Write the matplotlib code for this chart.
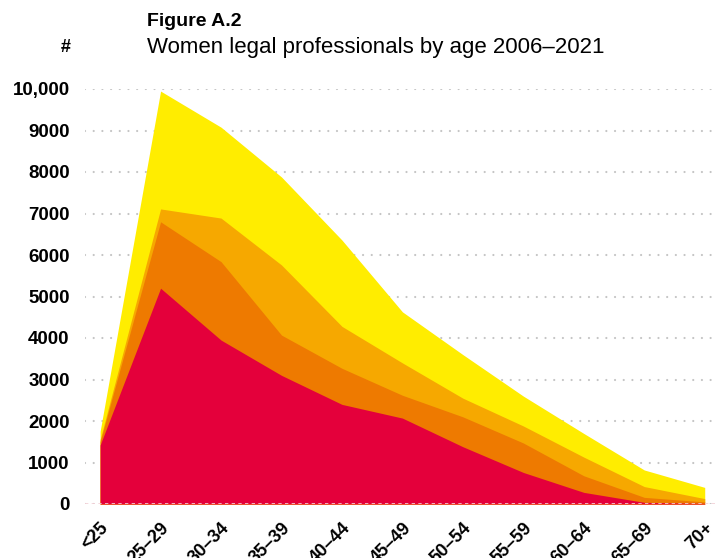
import matplotlib
matplotlib.use("Agg")
import matplotlib.pyplot as plt
import numpy as np

ages = ['<25', '25–29', '30–34', '35–39', '40–44', '45–49', '50–54', '55–59', '60–64', '65–69', '70+']
y2021 = [1750, 9950, 9080, 7880, 6360, 4630, 3600, 2600, 1700, 820, 400]
y2016 = [1550, 7110, 6890, 5760, 4280, 3400, 2550, 1880, 1130, 420, 130]
y2011 = [1500, 6800, 5840, 4070, 3270, 2620, 2100, 1470, 680, 160, 50]
y2006 = [1420, 5200, 3950, 3100, 2400, 2070, 1380, 760, 280, 40, 15]
yticks = [0, 1000, 2000, 3000, 4000, 5000, 6000, 7000, 8000, 9000, 10000]
ytick_labels = ['0', '1000', '2000', '3000', '4000', '5000', '6000', '7000', '8000', '9000', '10,000']

colors = ['#FFED00', '#F6A800', '#EE7A00', '#E4003B']
series = [y2021, y2016, y2011, y2006]

plt.rcParams['font.family'] = ['Liberation Sans', 'DejaVu Sans']

fig = plt.figure(figsize=(7.15, 5.58), dpi=100)
ax = fig.add_axes([85/715, 1 - 504/558, 630/715, (504 - 89)/558])

x = np.arange(len(ages))
for s, c in zip(series, colors):
    ax.fill_between(x, 0, s, color=c, linewidth=0, zorder=2)

ax.set_xlim(-0.25, 10.17)
ax.set_ylim(0, 10000)
ax.set_yticks(yticks)
ax.set_yticklabels(ytick_labels, fontsize=13.5, fontweight='bold')
for yv in yticks:
    ax.axhline(yv, color='#c4c4c4', linewidth=1.6, linestyle=(0, (0.01, 3.9)),
               dash_capstyle='round', zorder=1)
ax.axhline(0, color='#f2d0d6', linewidth=1.2, linestyle=(0, (2, 2)), zorder=3)
ax.tick_params(axis='y', length=0, pad=11)
ax.set_xticks(x)
ax.set_xticklabels(ages, fontsize=13, fontweight='bold', rotation=45,
                   ha='right', va='top', rotation_mode='anchor')
ax.tick_params(axis='x', length=0, pad=11)
for sp in ax.spines.values():
    sp.set_visible(False)

fig.text(147/715, 1 - 21/558, 'Figure A.2', fontsize=14, fontweight='bold',
         ha='left', va='center')
fig.text(147/715, 1 - 48/558, 'Women legal professionals by age 2006–2021', fontsize=16,
         ha='left', va='center')
fig.text(66/715, 1 - 48/558, '#', fontsize=13, fontweight='bold', ha='center', va='center')

fig.savefig('out.png', dpi=100)
